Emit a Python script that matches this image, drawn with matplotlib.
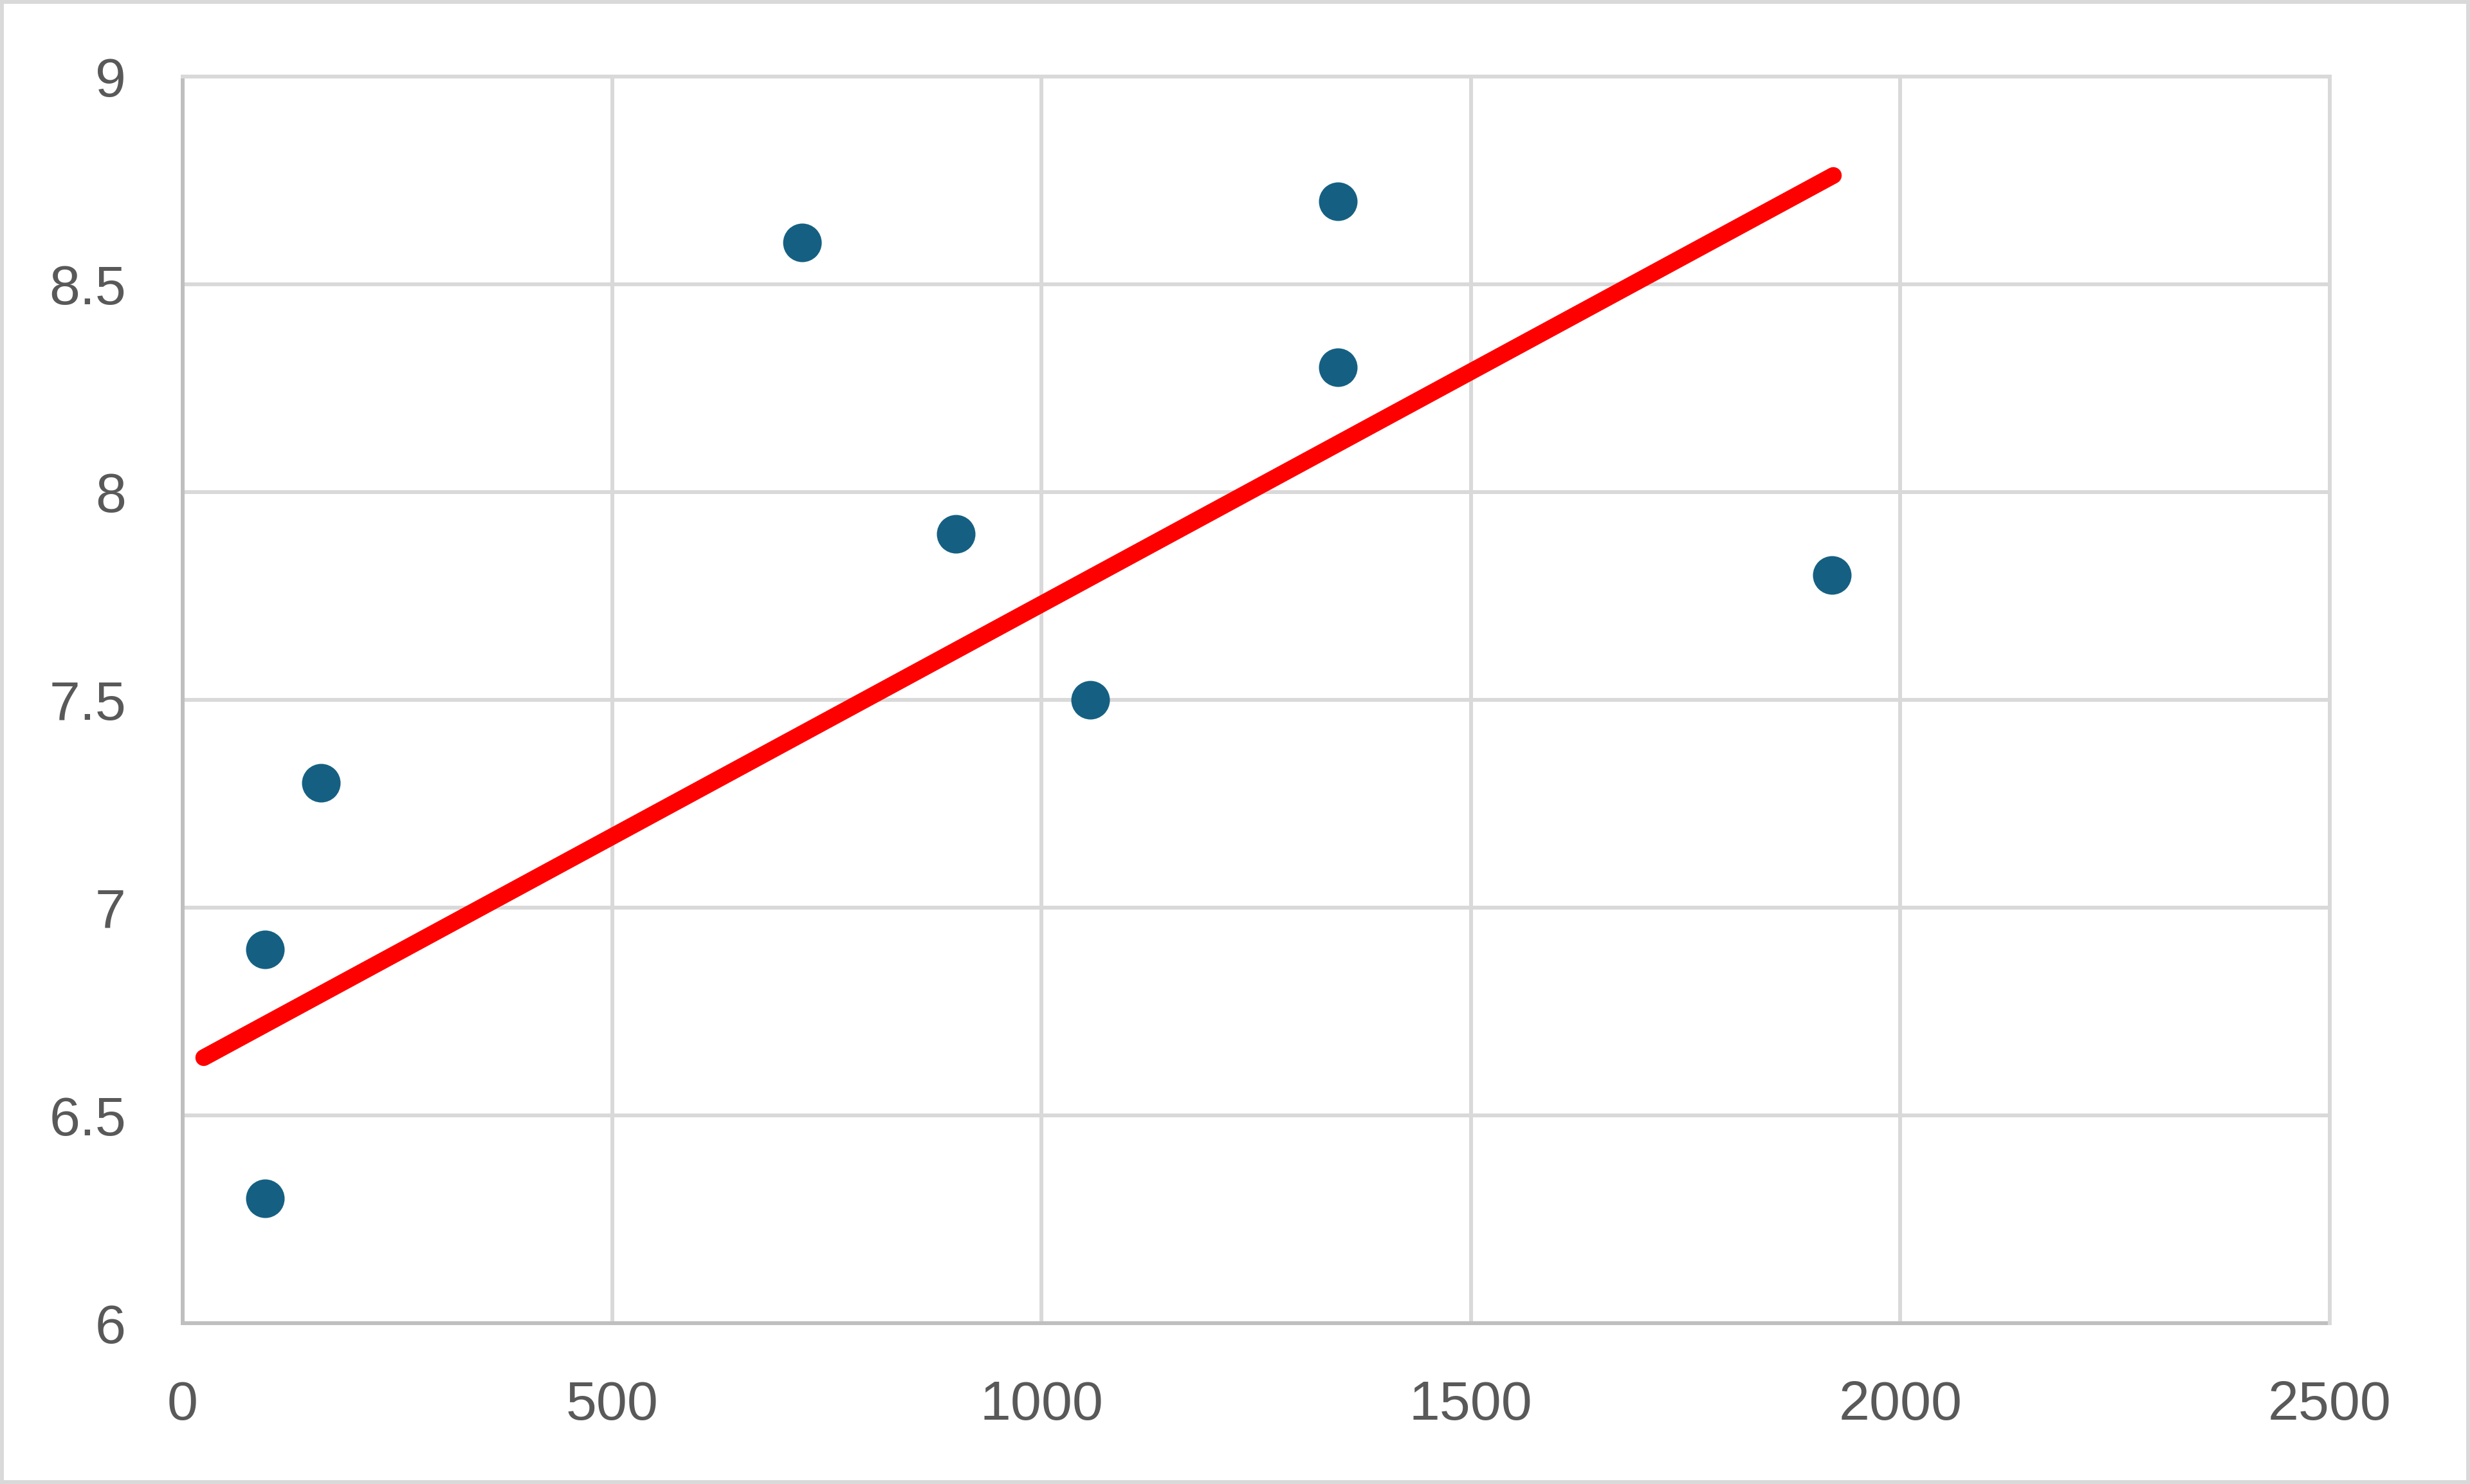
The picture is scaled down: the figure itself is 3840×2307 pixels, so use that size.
import matplotlib
matplotlib.use("Agg")
import matplotlib.pyplot as plt
from matplotlib.patches import Rectangle

# Data
x_values = [96, 96, 161, 721, 900, 1057, 1345, 1345, 1920]
y_values = [6.9, 6.3, 7.3, 8.6, 7.9, 7.5, 8.7, 8.3, 7.8]
trend_x = [24.5, 1922]
trend_y = [6.639, 8.762]
x_ticks = [0, 500, 1000, 1500, 2000, 2500]
y_ticks = [6, 6.5, 7, 7.5, 8, 8.5, 9]
x_tick_labels = ["0", "500", "1000", "1500", "2000", "2500"]
y_tick_labels = ["6", "6.5", "7", "7.5", "8", "8.5", "9"]

DPI = 100
fig = plt.figure(figsize=(38.4, 23.07), dpi=DPI)
fig.patch.set_facecolor("white")

px = 72.0 / DPI  # points per pixel

ax = fig.add_axes([284 / 3840, 1 - 2057 / 2307, (3622 - 284) / 3840, (2057 - 119) / 2307])
ax.set_xlim(0, 2500)
ax.set_ylim(6, 9)

ax.grid(True, color="#D9D9D9", linewidth=6 * px, zorder=0)
ax.set_axisbelow(True)

for side in ["top", "right"]:
    ax.spines[side].set_color("#D9D9D9")
    ax.spines[side].set_linewidth(6 * px)
for side in ["left", "bottom"]:
    ax.spines[side].set_color("#BFBFBF")
    ax.spines[side].set_linewidth(6 * px)
    ax.spines[side].set_zorder(1)

ax.set_xticks(x_ticks)
ax.set_xticklabels(x_tick_labels)
ax.set_yticks(y_ticks)
ax.set_yticklabels(y_tick_labels)
ax.tick_params(axis="both", length=0, pad=88 * px, labelsize=62, labelcolor="#595959")
for lab in ax.get_xticklabels() + ax.get_yticklabels():
    lab.set_fontfamily(["Liberation Sans", "DejaVu Sans"])

ax.plot(x_values, y_values, linestyle="none", marker="o", markersize=60 * px,
        markerfacecolor="#156082", markeredgecolor="#156082", markeredgewidth=0, zorder=3,
        clip_on=False)
ax.plot(trend_x, trend_y, color="#FF0000", linewidth=26 * px, solid_capstyle="round", zorder=4)

# figure border
fig.patches.append(Rectangle((3 / 3840, 3 / 2307), 1 - 6 / 3840, 1 - 6 / 2307,
                             transform=fig.transFigure, fill=False,
                             edgecolor="#D9D9D9", linewidth=6 * px, zorder=10))

fig.savefig("out.png", dpi=DPI, facecolor="white")
